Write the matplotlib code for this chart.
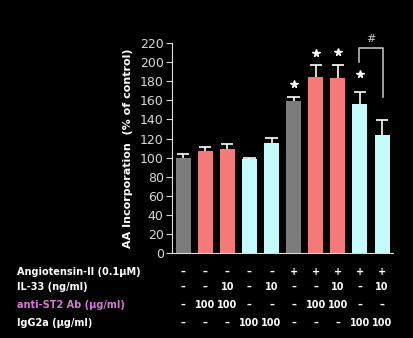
import numpy as np
import matplotlib
matplotlib.use("Agg")
import matplotlib.pyplot as plt
import matplotlib.transforms as mtransforms

# bar values (% of control) and upper error tops
values = [99.5, 106.5, 109.5, 98, 115.5, 159, 184, 183, 156.5, 123.5]
err_tops = [103.5, 111, 114.5, 100, 121, 163.5, 197, 197.5, 168.5, 139.5]
colors = ['#7c7c7c', '#f47a7a', '#f47a7a', '#c6fbfb', '#c6fbfb',
          '#7c7c7c', '#f47a7a', '#f47a7a', '#c6fbfb', '#c6fbfb']
star_bars = [5, 6, 7, 8]
star_y = [177, 210, 211, 188]

row_labels = ['Angiotensin-II (0.1\u03bcM)', 'IL-33 (ng/ml)',
              'anti-ST2 Ab (\u03bcg/ml)', 'IgG2a (\u03bcg/ml)']
row_colors = ['white', 'white', '#d77ad7', 'white']
angio = ['\u2013'] * 5 + ['+'] * 5
il33 = ['\u2013', '\u2013', '10', '\u2013', '10', '\u2013', '\u2013', '10', '\u2013', '10']
antist2 = ['\u2013', '100', '100', '\u2013', '\u2013', '\u2013', '100', '100', '\u2013', '\u2013']
igg2a = ['\u2013', '\u2013', '\u2013', '100', '100', '\u2013', '\u2013', '\u2013', '100', '100']
rows = [angio, il33, antist2, igg2a]

fig = plt.figure(figsize=(4.14, 3.38), dpi=100, facecolor='black')
ax = fig.add_axes([0.4155, 0.2515, 0.534, 0.621], facecolor='black')

x = np.arange(len(values))
ax.bar(x, values, width=0.68, color=colors, zorder=2)
ax.vlines(x, values, err_tops, color='white', lw=1.2, zorder=3)
ax.hlines(err_tops, x - 0.28, x + 0.28, color='white', lw=1.2, zorder=3)

ax.plot(x[star_bars], star_y, ls='none', marker='*', color='white', ms=5.5, mec='white')

# significance bracket between last two bars
ax.plot([x[8] - 0.05, x[8] - 0.05, x[9] + 0.05, x[9] + 0.05], [200, 215, 215, 164],
        color='#bbbbbb', lw=1.2)
ax.text((x[8] + x[9]) / 2, 219, '#', color='#cccccc', fontsize=8, ha='center', va='bottom')

ax.set_xlim(-0.5, 9.5)
ax.set_ylim(0, 220)
ax.set_yticks(np.arange(0, 221, 20))
ax.set_xticks([])
for s in ['top', 'right']:
    ax.spines[s].set_visible(False)
for s in ['left', 'bottom']:
    ax.spines[s].set_color('#dddddd')
ax.tick_params(axis='y', colors='#d8d8d8', labelsize=9, length=4, pad=2)
ax.set_ylabel('AA Incorporation  (% of control)', color='white', fontsize=8,
              fontweight='bold', labelpad=5)

# treatment table under the axes
trans = mtransforms.blended_transform_factory(ax.transData, fig.transFigure)
row_y = [272, 287, 305, 323]
for lab, col, yy, vals in zip(row_labels, row_colors, row_y, rows):
    fy = 1 - yy / 338
    fig.text(17 / 414, fy, lab, color=col, fontsize=7, fontweight='bold', va='center', ha='left')
    for xi, v in zip(x, vals):
        ax.text(xi, fy, v, transform=trans, color='white', fontsize=7,
                fontweight='bold', ha='center', va='center', clip_on=False)

fig.savefig('out.png', dpi=100, facecolor='black')
plt.close(fig)
